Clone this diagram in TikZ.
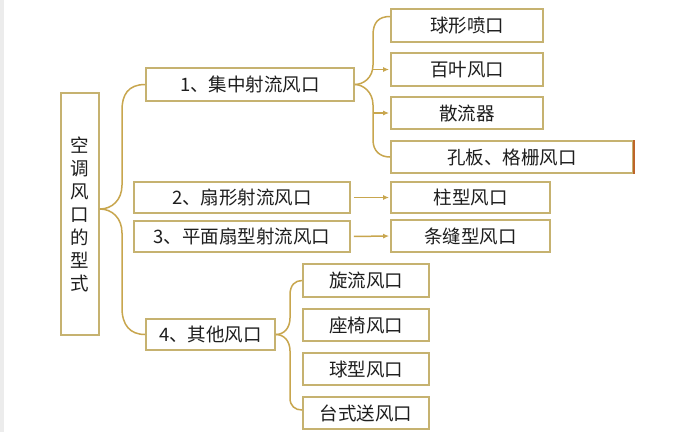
\documentclass[tikz,border=0pt]{standalone}
\usepackage{fontspec}
\setmainfont{Noto Sans CJK SC}
\usetikzlibrary{arrows.meta}
\definecolor{boxcol}{RGB}{198,178,112}
\definecolor{linecol}{RGB}{200,166,78}
\definecolor{edgecol}{RGB}{190,100,40}
\definecolor{txtcol}{RGB}{30,30,30}
\tikzset{
  box/.style={draw=boxcol, line width=1.8pt, fill=white, inner sep=0pt, text=txtcol,
    font=\fontsize{18.5}{23}\selectfont},
  conn/.style={draw=linecol, line width=1.5pt},
  arr/.style={conn, -{Latex[length=6pt,width=5pt]}, shorten >=1pt}
}
\begin{document}
\begin{tikzpicture}[x=1pt,y=-1pt]
\useasboundingbox (0,0) rectangle (695,432);
\fill[white] (0,0) rectangle (695,432);
\fill[gray!15] (0,0) rectangle (4,432);
% root
\node[box, minimum width=38pt, minimum height=242pt, align=center] (root) at (80,214)
  {空\\调\\风\\口\\的\\型\\式};
% level 1
\node[box, minimum width=208pt, minimum height=33pt] (b1) at (250,84.5) {1、集中射流风口};
\node[box, minimum width=216pt, minimum height=31pt] (b2) at (242,197.5) {2、扇形射流风口};
\node[box, minimum width=216pt, minimum height=31pt] (b3) at (242,236.5) {3、平面扇型射流风口};
\node[box, minimum width=129pt, minimum height=31pt] (b4) at (210.5,334.5) {4、其他风口};
% right, level 2
\node[box, minimum width=152pt, minimum height=33pt] (r1) at (467,25.5) {球形喷口};
\node[box, minimum width=152pt, minimum height=33pt] (r2) at (467,69.5) {百叶风口};
\node[box, minimum width=152pt, minimum height=32pt] (r3) at (467,113) {散流器};
\node[box, minimum width=242pt, minimum height=32pt] (r4) at (512,157) {孔板、格栅风口};
\draw[edgecol, line width=1.8pt] (r4.north east) -- (r4.south east);
\node[box, minimum width=159pt, minimum height=31pt] (r5) at (470.5,197.5) {柱型风口};
\node[box, minimum width=159pt, minimum height=32pt] (r6) at (470.5,236) {条缝型风口};
% bottom, level 2
\node[box, minimum width=126pt, minimum height=33pt] (s1) at (366,280.5) {旋流风口};
\node[box, minimum width=126pt, minimum height=32pt] (s2) at (366,325) {座椅风口};
\node[box, minimum width=126pt, minimum height=32pt] (s3) at (366,369) {球型风口};
\node[box, minimum width=126pt, minimum height=32pt] (s4) at (366,413) {台式送风口};
% root brace
\coordinate (rt) at ([yshift=5pt]root.east);
\draw[conn] (b1.west) .. controls (128,84.5) and (122,95) .. (122,110) -- (122,185)
  .. controls (122,200) and (112,209) .. (rt);
\draw[conn] (rt) .. controls (112,209) and (122,218) .. (122,233) -- (122,308)
  .. controls (122,325) and (130,334.5) .. (b4.west);
% brace of b1
\coordinate (tr1) at (373,0);
\coordinate (r1in) at ([yshift=9pt]r1.west);
\draw[conn] (r1in) .. controls (379,16.5) and (373,22) .. (373,35) -- (373,65)
  .. controls (373,78) and (363,84.5) .. (b1.east);
\draw[conn] (b1.east) .. controls (363,84.5) and (373,92) .. (373,105) -- (373,140)
  .. controls (373,151) and (380,157) .. (r4.west);
\draw[arr] (r2.west -| tr1) -- (r2.west);
\draw[arr] (r3.west -| tr1) -- (r3.west);
% arrows b2, b3
\draw[arr, shorten <=3pt] (b2.east) -- (r5.west);
\draw[arr, shorten <=3pt] (b3.east) -- (r6.west);
% brace of b4
\draw[conn] (b4.east) .. controls (284,334.5) and (290,328) .. (290,318) -- (290,295)
  .. controls (290,285) and (295,280.5) .. (s1.west);
\coordinate (s4in) at ([yshift=3pt]s4.west);
\draw[conn] (b4.east) .. controls (284,334.5) and (290,341) .. (290,351) -- (290,398)
  .. controls (290,406) and (295,410) .. (s4in);
\end{tikzpicture}
\end{document}
